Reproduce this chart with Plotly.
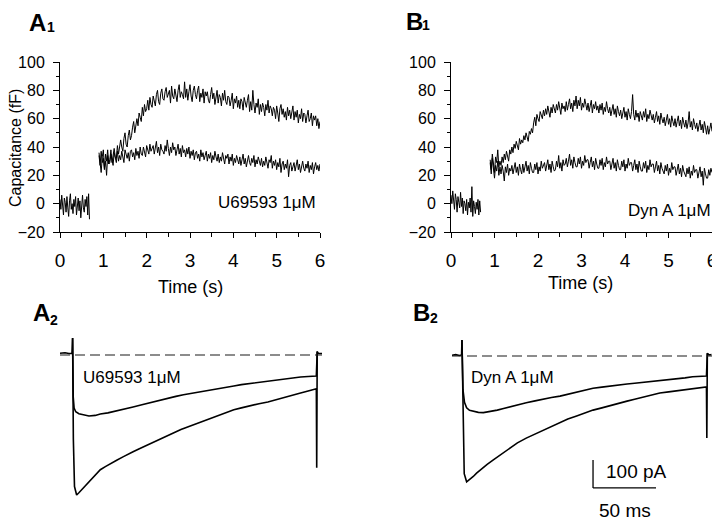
import numpy as np
import plotly.graph_objects as go

FONT = "Arial, Liberation Sans, sans-serif"
# The page body has an 8 px margin; the figure covers page pixels 8..720 x 8..521.
PAGE_OFF = 8
FW, FH = 712, 513

# ---------------- Panel A1 / B1 : capacitance (fF) vs time (s) ----------------
CAP_BASE_T0, CAP_BASE_DT = 0.0, 0.02
CAP_T0, CAP_DT = 0.90, 0.025

a1_base = [3, -4, 6, -2, -8, 4, 1, -6, 5, -3, -9, 2, 7, -4, 0, -7, 3, -2, 5, -8,
           -1, 4, -5, 2, -10, 1, 6, -3, -6, 3, -2, 5, -8, 7, -11]
a1_upper = [34, 27, 37, 29, 32, 24, 35, 30, 38, 28,
            31, 38, 29, 36, 39, 33, 32, 41, 35, 40,
            45, 40, 37, 46, 50, 42, 40, 48, 52, 45,
            48, 54, 58, 50, 56, 60, 55, 64, 61, 58,
            68, 62, 70, 65, 67, 73, 66, 75, 70, 68,
            76, 71, 69, 77, 80, 72, 70, 78, 81, 74,
            73, 79, 82, 75, 78, 80, 71, 83, 76, 74,
            81, 76, 72, 80, 84, 75, 79, 77, 74, 86,
            75, 81, 73, 79, 84, 76, 72, 80, 83, 77,
            74, 80, 83, 72, 78, 75, 81, 71, 79, 76,
            79, 73, 71, 77, 82, 74, 78, 70, 76, 80,
            71, 77, 75, 69, 78, 73, 80, 72, 70, 76,
            75, 69, 73, 78, 67, 74, 71, 76, 68, 73,
            67, 74, 72, 66, 75, 70, 68, 73, 77, 65,
            72, 66, 80, 70, 64, 71, 68, 74, 63, 70,
            65, 71, 68, 62, 70, 66, 73, 64, 69, 67,
            62, 68, 66, 60, 69, 64, 58, 67, 70, 63,
            67, 61, 65, 59, 68, 62, 66, 60, 64, 69,
            59, 65, 61, 66, 57, 63, 60, 67, 58, 64,
            63, 57, 62, 66, 58, 60, 64, 55, 62, 59,
            62, 55, 60, 53, 58]
a1_lower = [36, 27, 22, 33, 38, 25, 30, 20, 34, 28,
            29, 35, 31, 27, 36, 33, 29, 37, 30, 34,
            31, 37, 33, 29, 38, 35, 32, 36, 30, 37,
            38, 33, 36, 31, 39, 34, 37, 32, 40, 35,
            34, 40, 36, 33, 41, 38, 35, 42, 37, 39,
            41, 35, 39, 44, 36, 40, 34, 42, 38, 37,
            35, 41, 37, 45, 39, 34, 40, 36, 43, 38,
            40, 34, 38, 42, 35, 39, 33, 41, 36, 38,
            33, 39, 35, 40, 32, 37, 34, 38, 31, 36,
            37, 32, 35, 30, 38, 33, 36, 31, 34, 37,
            30, 35, 32, 36, 29, 34, 31, 37, 33, 30,
            35, 29, 33, 30, 36, 31, 28, 34, 32, 35,
            28, 33, 30, 35, 27, 32, 29, 34, 31, 28,
            33, 27, 31, 35, 28, 32, 26, 30, 34, 29,
            27, 32, 29, 34, 26, 31, 28, 33, 30, 27,
            32, 26, 30, 27, 33, 28, 25, 31, 29, 34,
            25, 30, 27, 31, 24, 29, 26, 32, 22, 28,
            30, 24, 28, 25, 31, 19, 27, 29, 23, 26,
            29, 23, 27, 31, 24, 28, 22, 26, 30, 25,
            23, 28, 25, 30, 22, 27, 24, 29, 21, 26,
            29, 24, 27, 23, 28]

b1_base = [6, 0, 9, 2, -4, 7, 3, -6, 5, 1, -3, 8, -2, 4, -7, 2, 0, -5, 3, -8,
           1, -3, 4, -6, 12, -9, 2, -2, -7, 1, -4, 3, -8, 2, -6]
b1_upper = [31, 24, 35, 27, 22, 33, 29, 38, 26, 30,
            27, 33, 29, 35, 31, 37, 33, 30, 38, 35,
            40, 36, 42, 39, 44, 41, 38, 46, 42, 45,
            43, 48, 45, 50, 47, 44, 51, 49, 53, 50,
            57, 61, 55, 63, 60, 58, 65, 62, 60, 66,
            62, 67, 63, 69, 65, 61, 68, 64, 70, 66,
            64, 70, 66, 72, 68, 63, 71, 67, 69, 65,
            72, 66, 70, 74, 67, 71, 65, 73, 69, 76,
            67, 73, 69, 75, 66, 71, 68, 74, 70, 66,
            71, 65, 69, 73, 64, 70, 67, 72, 66, 69,
            64, 70, 66, 71, 63, 68, 65, 72, 67, 64,
            68, 62, 66, 70, 63, 67, 61, 69, 65, 62,
            66, 60, 64, 68, 61, 65, 59, 67, 63, 60,
            65, 77, 63, 59, 66, 61, 64, 58, 65, 62,
            59, 65, 61, 67, 58, 63, 60, 66, 62, 59,
            63, 57, 61, 65, 58, 62, 56, 64, 60, 57,
            61, 55, 59, 63, 56, 60, 54, 62, 58, 55,
            60, 54, 58, 62, 55, 59, 53, 61, 57, 54,
            59, 53, 57, 65, 54, 58, 52, 60, 56, 53,
            57, 51, 55, 59, 52, 56, 50, 58, 54, 49,
            55, 49, 53, 57, 51]
b1_lower = [29, 21, 32, 24, 18, 27, 23, 30, 20, 26,
            21, 27, 23, 16, 26, 22, 28, 20, 25, 23,
            27, 21, 25, 29, 22, 26, 20, 28, 24, 21,
            28, 22, 26, 30, 23, 27, 21, 29, 25, 22,
            22, 28, 24, 29, 21, 26, 23, 30, 25, 27,
            29, 23, 27, 31, 24, 28, 22, 30, 26, 23,
            24, 30, 26, 34, 25, 29, 23, 31, 27, 28,
            32, 26, 30, 35, 27, 31, 25, 33, 29, 26,
            26, 32, 28, 33, 25, 30, 27, 34, 29, 31,
            31, 25, 29, 33, 26, 30, 24, 32, 28, 25,
            25, 31, 27, 32, 24, 29, 26, 33, 28, 30,
            30, 24, 28, 32, 25, 29, 23, 31, 27, 24,
            24, 30, 26, 31, 23, 28, 25, 32, 27, 29,
            29, 23, 27, 31, 24, 28, 22, 30, 26, 23,
            23, 29, 25, 30, 22, 27, 24, 31, 26, 28,
            28, 22, 26, 30, 23, 27, 21, 29, 25, 22,
            21, 27, 23, 28, 20, 25, 22, 29, 24, 26,
            26, 20, 24, 28, 21, 25, 19, 27, 23, 20,
            19, 25, 21, 26, 18, 23, 20, 27, 22, 24,
            24, 18, 22, 26, 19, 23, 13, 25, 21, 18,
            18, 24, 20, 25, 22]

cap_x_ticks = [0, 1, 2, 3, 4, 5, 6]
cap_y_ticks = [-20, 0, 20, 40, 60, 80, 100]

# ---------------- Panel A2 / B2 : current (pA) vs time (ms) ----------------
a2_big_t = [-10, -6, -3, -0.5, 0, 0.6, 1.5, 3.2, 5, 7, 9, 11, 14, 18, 22, 26, 30, 35, 40, 44,
            48, 53, 58, 63, 68, 75, 80, 86, 92, 97, 102, 108, 114, 120, 128, 134, 141, 148,
            155, 161, 168, 175, 181, 187, 193.5, 193.8, 194.2, 195, 198]
a2_big_i = [6, 8, 5, 6, 60, -300, -470, -500, -492, -482, -473, -465, -447, -428, -410, -399,
            -388, -376, -364, -356, -346, -335, -325, -314, -303, -289, -279, -266, -256, -247,
            -239, -229, -219, -209, -196, -189, -181, -174, -168, -160, -152, -144, -136, -129,
            -121, -403, 12, 6, 5]
a2_small_t = [0, 0.5, 1.2, 2.5, 5, 9, 13, 18, 22, 28, 35, 42, 48, 55, 62, 68, 75, 82, 88, 95,
              101, 108, 114, 121, 128, 134, 141, 148, 155, 161, 168, 174, 181, 187, 193.5, 194.2]
a2_small_i = [60, -150, -190, -203, -210, -215, -218, -216, -211, -207, -200, -194, -186, -178,
              -170, -162, -154, -148, -142, -137, -132, -127, -121, -116, -111, -106, -102, -98,
              -93, -89, -85, -82, -79, -77, -75, 12]

b2_big_t = [-8, -5, -2, -0.3, 0, 0.8, 1.8, 3.7, 6, 9, 11.6, 15, 20, 24.9, 30, 38, 44, 51, 58,
            64.5, 71, 77.8, 84, 91, 97, 104, 111, 117, 124, 131, 137, 144, 150, 157, 164, 170,
            177, 183, 188, 194, 194.3, 194.7, 196, 198]
b2_big_i = [3, 5, 2, 4, 57, -250, -420, -449, -442, -430, -418, -404, -387, -371, -355, -329,
            -310, -293, -278, -264, -250, -236, -225, -214, -204, -193, -185, -177, -169, -161,
            -154, -146, -139, -132, -128, -124, -121, -118, -114, -110, -293, 10, 4, 5]
b2_small_t = [0, 0.8, 2, 3.7, 6, 9, 13, 17, 22, 28, 33, 38, 44, 51, 58, 64.5, 71, 77.8, 84, 91,
              97, 104, 111, 117, 124, 131, 137, 144, 150, 157, 164, 170, 177, 183, 188, 194, 194.7]
b2_small_i = [57, -120, -165, -185, -194, -198, -201, -202, -199, -193, -187, -181, -174, -167,
              -160, -153, -148, -143, -136, -129, -122, -115, -111, -107, -104, -100, -97, -94,
              -91, -88, -85, -81, -78, -74, -72, -71, 10]

SCALE_PA = 100
SCALE_MS = 50
SCALE_X0_MS = 104
SCALE_Y0_PA = -471


def times(t0, dt, n):
    return np.round(t0 + dt * np.arange(n), 4)


def px(x):
    """page pixel x -> paper fraction"""
    return (x - PAGE_OFF) / FW


def py(y):
    """page pixel y -> paper fraction"""
    return 1 - (y - PAGE_OFF) / FH


fig = go.Figure()
black = "black"

for ax, base, up, lo in [("", a1_base, a1_upper, a1_lower), ("2", b1_base, b1_upper, b1_lower)]:
    for xs, ys in [(times(CAP_BASE_T0, CAP_BASE_DT, len(base)), base),
                   (times(CAP_T0, CAP_DT, len(up)), up),
                   (times(CAP_T0, CAP_DT, len(lo)), lo)]:
        fig.add_trace(go.Scatter(x=xs, y=ys, mode="lines", xaxis="x" + ax, yaxis="y" + ax,
                                 line=dict(color=black, width=1), showlegend=False,
                                 hoverinfo="skip"))

for ax, tt, ii in [("3", a2_big_t, a2_big_i), ("3", a2_small_t, a2_small_i),
                   ("4", b2_big_t, b2_big_i), ("4", b2_small_t, b2_small_i)]:
    fig.add_trace(go.Scatter(x=tt, y=ii, mode="lines", xaxis="x" + ax, yaxis="y" + ax,
                             line=dict(color=black, width=1.6), showlegend=False,
                             hoverinfo="skip"))

tickfont_x = dict(family=FONT, size=19, color=black)
tickfont_y = dict(family=FONT, size=16, color=black)


def cap_xaxis(dom, anchor):
    return dict(domain=dom, anchor=anchor, range=[0, 6], tickvals=cap_x_ticks,
                showline=True, linecolor=black, linewidth=1,
                ticks="outside", ticklen=5, tickwidth=1, tickcolor=black,
                showgrid=False, zeroline=False, tickfont=tickfont_x,
                ticklabelstandoff=6, automargin=False,
                minor=dict(ticks="outside", ticklen=4, tickcolor=black, dtick=0.5,
                           showgrid=False))


def cap_yaxis(dom, anchor):
    return dict(domain=dom, anchor=anchor, range=[-20, 100], tickvals=cap_y_ticks,
                showline=True, linecolor=black, linewidth=1,
                ticks="outside", ticklen=6, tickwidth=1, tickcolor=black,
                showgrid=False, zeroline=False, tickfont=tickfont_y,
                ticklabelstandoff=5, automargin=False,
                minor=dict(ticks="outside", ticklen=3, tickcolor=black, dtick=10,
                           showgrid=False))


top_dom = [py(232), py(62)]
bot_dom = [py(500), py(330)]

fig.update_layout(
    width=FW, height=FH, margin=dict(l=0, r=0, t=0, b=0, pad=0),
    paper_bgcolor="white", plot_bgcolor="white",
    font=dict(family=FONT, color=black),
    xaxis=cap_xaxis([px(60), px(320)], "y"),
    yaxis=cap_yaxis(top_dom, "x"),
    xaxis2=cap_xaxis([px(451), px(712)], "y2"),
    yaxis2=cap_yaxis(top_dom, "x2"),
    xaxis3=dict(domain=[px(60), px(322)], anchor="y3", range=[-10, 198], visible=False),
    yaxis3=dict(domain=bot_dom, anchor="x3", range=[-518, 89], visible=False),
    xaxis4=dict(domain=[px(452), px(712)], anchor="y4", range=[-7.9, 198.4], visible=False),
    yaxis4=dict(domain=bot_dom, anchor="x4", range=[-514, 93], visible=False),
)

shapes = []
for xa, ya in [("x3", "y3"), ("x4", "y4")]:
    shapes.append(dict(type="line", xref=xa + " domain", yref=ya, x0=0, x1=1, y0=0, y1=0,
                       line=dict(color="#1a1a1a", width=1.1, dash="10px,5px")))
shapes.append(dict(type="line", xref="x4", yref="y4", x0=SCALE_X0_MS, x1=SCALE_X0_MS,
                   y0=SCALE_Y0_PA, y1=SCALE_Y0_PA + SCALE_PA, line=dict(color=black, width=1.3)))
shapes.append(dict(type="line", xref="x4", yref="y4", x0=SCALE_X0_MS, x1=SCALE_X0_MS + SCALE_MS,
                   y0=SCALE_Y0_PA, y1=SCALE_Y0_PA, line=dict(color=black, width=1.3)))
fig.update_layout(shapes=shapes)


def ann(text, x, y, size, xanchor="center", yanchor="middle", angle=0, xref="paper",
        yref="paper", bold=False):
    return dict(text=f"<b>{text}</b>" if bold else text, x=x, y=y, xref=xref, yref=yref,
                xanchor=xanchor, yanchor=yanchor, showarrow=False, textangle=angle,
                font=dict(family=FONT, size=size, color=black))


annotations = [
    ann("A", px(37), py(22), 24, bold=True), ann("1", px(51), py(27), 14, bold=True),
    ann("B", px(414), py(21), 24, bold=True), ann("1", px(425.5), py(25), 14, bold=True),
    ann("A", px(41), py(312), 24, bold=True), ann("2", px(54), py(320), 14, bold=True),
    ann("B", px(421), py(312), 24, bold=True), ann("2", px(434), py(318), 14, bold=True),
    ann("Capacitance (fF)", px(15), py(148), 16, angle=-90),
    ann("Time (s)", px(190), py(287), 18),
    ann("Time (s)", px(580), py(283), 18),
    ann("U69593 1μM", px(318), py(202), 17, "right"),
    ann("Dyn A 1μM", px(713), py(210), 17, "right"),
    ann("U69593 1μM", px(81), py(377), 17, "left"),
    ann("Dyn A 1μM", px(469), py(377), 17, "left"),
    ann(f"{SCALE_PA} pA", SCALE_X0_MS + 9, SCALE_Y0_PA + SCALE_PA * 0.6, 19, "left",
        xref="x4", yref="y4"),
    ann(f"{SCALE_MS} ms", SCALE_X0_MS + SCALE_MS / 2, py(510), 19, "center",
        xref="x4", yref="paper"),
]
fig.update_layout(annotations=annotations)

fig.write_html("out.html")
